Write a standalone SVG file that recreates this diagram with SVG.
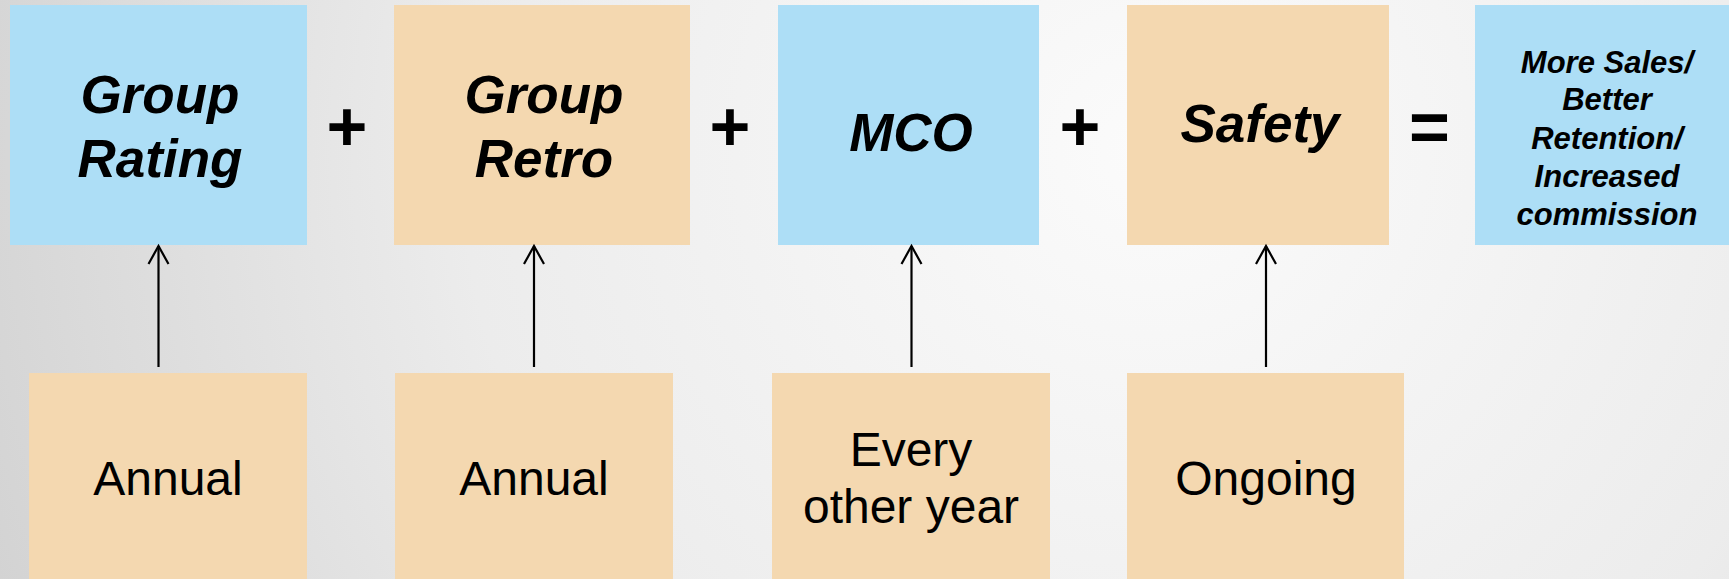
<svg xmlns="http://www.w3.org/2000/svg" width="1729" height="579" viewBox="0 0 1729 579">
<style>
.blue{fill:#ADDEF6}
.tan{fill:#F4D8B0}
.big{font-family:"Liberation Sans",Arial,sans-serif;font-weight:bold;font-style:italic;font-size:53px;fill:#000;text-anchor:middle}
.res{font-family:"Liberation Sans",Arial,sans-serif;font-weight:bold;font-style:italic;font-size:31px;fill:#000;text-anchor:middle}
.low{font-family:"Liberation Sans",Arial,sans-serif;font-size:48px;fill:#000;text-anchor:middle}
.op{font-family:"Liberation Sans",Arial,sans-serif;font-weight:bold;font-size:70px;fill:#000;text-anchor:middle}
.conn{stroke:#000;stroke-width:2.2;fill:none;marker-end:url(#arr)}
</style>
<defs>
<radialGradient id="bg" cx="1150" cy="150" r="1250" gradientUnits="userSpaceOnUse">
<stop offset="0" stop-color="#fbfbfb"/>
<stop offset="0.55" stop-color="#ececec"/>
<stop offset="1" stop-color="#d2d2d2"/>
</radialGradient>
<marker id="arr" markerWidth="24" markerHeight="24" refX="20" refY="12" orient="auto" markerUnits="userSpaceOnUse">
<path d="M2,2 L20,12 L2,22" fill="none" stroke="#000" stroke-width="2.2"/>
</marker>
</defs>
<rect x="0" y="0" width="1729" height="579" fill="url(#bg)"/>

<g id="group-rating">
<rect class="blue" x="10" y="5" width="297" height="240"/>
<text class="big" x="160" y="113">Group</text>
<text class="big" x="160" y="177">Rating</text>
</g>
<g id="group-retro">
<rect class="tan" x="394" y="5" width="296" height="240"/>
<text class="big" x="544" y="113">Group</text>
<text class="big" x="544" y="177">Retro</text>
</g>
<g id="mco">
<rect class="blue" x="778" y="5" width="261" height="240"/>
<text class="big" x="911" y="151">MCO</text>
</g>
<g id="safety">
<rect class="tan" x="1127" y="5" width="262" height="240"/>
<text class="big" x="1260" y="142">Safety</text>
</g>
<g id="result">
<rect class="blue" x="1475" y="5" width="254" height="240"/>
<text class="res" x="1607" y="73">More Sales/</text>
<text class="res" x="1607" y="110">Better</text>
<text class="res" x="1607" y="149">Retention/</text>
<text class="res" x="1607" y="187">Increased</text>
<text class="res" x="1607" y="225">commission</text>
</g>
<g id="operators">
<text class="op" x="347" y="151">+</text>
<text class="op" x="730" y="151">+</text>
<text class="op" x="1080" y="151">+</text>
<text class="op" x="1429.5" y="151">=</text>
</g>
<g id="annual-1">
<rect class="tan" x="29" y="373" width="278" height="206"/>
<text class="low" x="168" y="495">Annual</text>
</g>
<g id="annual-2">
<rect class="tan" x="395" y="373" width="278" height="206"/>
<text class="low" x="534" y="495">Annual</text>
</g>
<g id="every-other-year">
<rect class="tan" x="772" y="373" width="278" height="206"/>
<text class="low" x="911" y="466">Every</text>
<text class="low" x="911" y="523">other year</text>
</g>
<g id="ongoing">
<rect class="tan" x="1127" y="373" width="277" height="206"/>
<text class="low" x="1266" y="495">Ongoing</text>
</g>
<g id="connectors">
<line class="conn" x1="158.5" y1="367" x2="158.5" y2="246"/>
<line class="conn" x1="534" y1="367" x2="534" y2="246"/>
<line class="conn" x1="911.5" y1="367" x2="911.5" y2="246"/>
<line class="conn" x1="1266" y1="367" x2="1266" y2="246"/>
</g>
</svg>
